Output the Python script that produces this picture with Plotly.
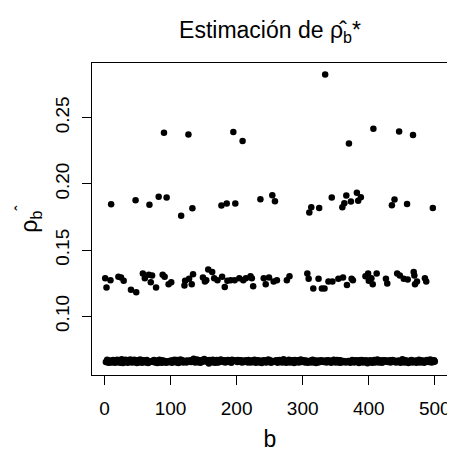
import plotly.graph_objects as go

# b index of the replicates that jumped above the base level, and their rho_b* value
b_out = [90, 127, 195, 209, 334, 370, 407, 446, 467,
         10, 47, 68, 82, 94, 116, 133, 177, 185, 198, 236, 254, 258, 310, 313, 325,
         344, 360, 363, 366, 373, 382, 384, 388, 435, 439, 458, 497,
         1, 3, 9, 21, 25, 29, 40, 48, 58, 61, 67, 72, 70, 78, 88, 91, 97, 101,
         122, 121, 128, 134, 132, 149, 152, 157, 163, 154, 166, 171, 178, 182,
         186, 191, 197, 204, 210, 214, 221, 225, 223, 241, 244, 249, 256, 261,
         276, 280, 307, 309, 316, 329, 324, 333, 339, 345, 354, 361, 367, 374,
         376, 395, 399, 400, 404, 412, 406, 426, 428, 443, 447, 453, 459, 468,
         469, 470, 473, 485, 487]
rho_out = [0.2387, 0.2374, 0.2393, 0.2324, 0.2826, 0.2306, 0.2416, 0.2395, 0.2370,
           0.1846, 0.1877, 0.1842, 0.1903, 0.1898, 0.1760, 0.1816, 0.1837, 0.1852,
           0.1852, 0.1885, 0.1915, 0.1869, 0.1785, 0.1823, 0.1818, 0.1898, 0.1823,
           0.1854, 0.1913, 0.1867, 0.1934, 0.1872, 0.1900, 0.1839, 0.1882, 0.1849,
           0.1818,
           0.1288, 0.1217, 0.1273, 0.1298, 0.1293, 0.1268, 0.1201, 0.1181, 0.1324,
           0.1288, 0.1314, 0.1308, 0.1257, 0.1217, 0.1314, 0.1298, 0.1242, 0.1257,
           0.1268, 0.1232, 0.1283, 0.1318, 0.1242, 0.1293, 0.1262, 0.1354, 0.1334,
           0.1273, 0.1288, 0.1273, 0.1298, 0.1222, 0.1268, 0.1273, 0.1273, 0.1288,
           0.1273, 0.1288, 0.1303, 0.1227, 0.1288, 0.1288, 0.1242, 0.1293, 0.1262,
           0.1273, 0.1273, 0.1303, 0.1324, 0.1283, 0.1211, 0.1211, 0.1283, 0.1211,
           0.1262, 0.1262, 0.1283, 0.1293, 0.1237, 0.1283, 0.1273, 0.1303, 0.1324,
           0.1268, 0.1288, 0.1324, 0.1242, 0.1283, 0.1247, 0.1324, 0.1308, 0.1283,
           0.1278, 0.1334, 0.1308, 0.1242, 0.1262, 0.1288, 0.1262]

# base level of rho_b* for b = 1..500 (used where b is not in b_out)
rho_base = [
    0.0664, 0.0654, 0.0668, 0.0672, 0.0652, 0.0661, 0.0649, 0.0666, 0.0674, 0.0658, 0.0651, 0.0665, 0.0670, 0.0655, 0.0662, 0.0650, 0.0667, 0.0659, 0.0671, 0.0653,
    0.0663, 0.0669, 0.0656, 0.0650, 0.0665, 0.0676, 0.0659, 0.0648, 0.0667, 0.0661, 0.0654, 0.0672, 0.0658, 0.0664, 0.0649, 0.0669, 0.0655, 0.0662, 0.0673, 0.0659,
    0.0651, 0.0667, 0.0660, 0.0653, 0.0671, 0.0662, 0.0655, 0.0665, 0.0648, 0.0669, 0.0659, 0.0652, 0.0663, 0.0674, 0.0656, 0.0666, 0.0650, 0.0660, 0.0668, 0.0662,
    0.0655, 0.0666, 0.0652, 0.0670, 0.0659, 0.0647, 0.0662, 0.0668, 0.0654, 0.0673, 0.0660, 0.0650, 0.0665, 0.0655, 0.0670, 0.0662, 0.0652, 0.0668, 0.0659, 0.0648,
    0.0666, 0.0658, 0.0672, 0.0652, 0.0662, 0.0669, 0.0650, 0.0660, 0.0666, 0.0655, 0.0675, 0.0661, 0.0649, 0.0668, 0.0658, 0.0653, 0.0671, 0.0662, 0.0655, 0.0665,
    0.0659, 0.0650, 0.0668, 0.0662, 0.0654, 0.0672, 0.0659, 0.0666, 0.0652, 0.0670, 0.0662, 0.0647, 0.0666, 0.0658, 0.0674, 0.0655, 0.0663, 0.0669, 0.0651, 0.0660,
    0.0668, 0.0655, 0.0662, 0.0652, 0.0666, 0.0659, 0.0672, 0.0650, 0.0662, 0.0668, 0.0654, 0.0666, 0.0658, 0.0648, 0.0679, 0.0662, 0.0652, 0.0666, 0.0659, 0.0673,
    0.0653, 0.0662, 0.0668, 0.0658, 0.0650, 0.0666, 0.0655, 0.0670, 0.0662, 0.0659, 0.0678, 0.0652, 0.0666, 0.0658, 0.0669, 0.0655, 0.0662, 0.0644, 0.0670, 0.0659,
    0.0662, 0.0655, 0.0666, 0.0672, 0.0652, 0.0659, 0.0669, 0.0650, 0.0662, 0.0670, 0.0658, 0.0652, 0.0666, 0.0655, 0.0662, 0.0673, 0.0650, 0.0659, 0.0668, 0.0655,
    0.0666, 0.0658, 0.0652, 0.0668, 0.0662, 0.0647, 0.0670, 0.0659, 0.0654, 0.0666, 0.0658, 0.0650, 0.0672, 0.0662, 0.0655, 0.0669, 0.0658, 0.0652, 0.0666, 0.0662,
    0.0655, 0.0670, 0.0662, 0.0650, 0.0666, 0.0659, 0.0669, 0.0652, 0.0662, 0.0675, 0.0655, 0.0666, 0.0658, 0.0648, 0.0669, 0.0662, 0.0652, 0.0670, 0.0659, 0.0655,
    0.0666, 0.0652, 0.0659, 0.0669, 0.0662, 0.0655, 0.0672, 0.0659, 0.0650, 0.0666, 0.0662, 0.0655, 0.0669, 0.0658, 0.0652, 0.0670, 0.0662, 0.0647, 0.0666, 0.0659,
    0.0659, 0.0669, 0.0655, 0.0662, 0.0652, 0.0666, 0.0659, 0.0674, 0.0655, 0.0662, 0.0669, 0.0650, 0.0659, 0.0666, 0.0655, 0.0670, 0.0662, 0.0652, 0.0659, 0.0668,
    0.0662, 0.0650, 0.0666, 0.0659, 0.0670, 0.0655, 0.0662, 0.0669, 0.0652, 0.0659, 0.0676, 0.0655, 0.0666, 0.0658, 0.0650, 0.0669, 0.0662, 0.0655, 0.0672, 0.0659,
    0.0652, 0.0666, 0.0659, 0.0669, 0.0655, 0.0662, 0.0647, 0.0670, 0.0659, 0.0666, 0.0655, 0.0662, 0.0669, 0.0652, 0.0659, 0.0666, 0.0674, 0.0655, 0.0662, 0.0659,
    0.0669, 0.0655, 0.0662, 0.0652, 0.0666, 0.0659, 0.0670, 0.0650, 0.0662, 0.0669, 0.0655, 0.0666, 0.0658, 0.0652, 0.0672, 0.0662, 0.0655, 0.0666, 0.0659, 0.0648,
    0.0659, 0.0666, 0.0652, 0.0670, 0.0662, 0.0655, 0.0669, 0.0659, 0.0650, 0.0666, 0.0662, 0.0655, 0.0670, 0.0658, 0.0666, 0.0652, 0.0662, 0.0669, 0.0655, 0.0659,
    0.0666, 0.0659, 0.0650, 0.0669, 0.0662, 0.0655, 0.0672, 0.0659, 0.0666, 0.0652, 0.0662, 0.0670, 0.0655, 0.0659, 0.0666, 0.0650, 0.0669, 0.0662, 0.0652, 0.0666,
    0.0655, 0.0662, 0.0669, 0.0659, 0.0652, 0.0666, 0.0677, 0.0655, 0.0662, 0.0669, 0.0659, 0.0650, 0.0666, 0.0658, 0.0670, 0.0655, 0.0662, 0.0652, 0.0659, 0.0669,
    0.0662, 0.0652, 0.0666, 0.0659, 0.0647, 0.0669, 0.0655, 0.0662, 0.0670, 0.0659, 0.0652, 0.0666, 0.0655, 0.0662, 0.0650, 0.0669, 0.0659, 0.0645, 0.0620, 0.0662,
    0.0659, 0.0669, 0.0655, 0.0662, 0.0650, 0.0666, 0.0659, 0.0670, 0.0652, 0.0662, 0.0655, 0.0666, 0.0673, 0.0659, 0.0652, 0.0669, 0.0662, 0.0655, 0.0666, 0.0650,
    0.0666, 0.0655, 0.0662, 0.0669, 0.0659, 0.0650, 0.0666, 0.0672, 0.0655, 0.0662, 0.0659, 0.0669, 0.0652, 0.0662, 0.0655, 0.0670, 0.0659, 0.0666, 0.0652, 0.0659,
    0.0652, 0.0662, 0.0669, 0.0655, 0.0666, 0.0659, 0.0670, 0.0650, 0.0662, 0.0655, 0.0675, 0.0659, 0.0666, 0.0652, 0.0662, 0.0669, 0.0655, 0.0659, 0.0666, 0.0648,
    0.0662, 0.0655, 0.0666, 0.0659, 0.0670, 0.0652, 0.0662, 0.0669, 0.0655, 0.0659, 0.0666, 0.0650, 0.0669, 0.0662, 0.0655, 0.0672, 0.0659, 0.0652, 0.0666, 0.0662,
    0.0655, 0.0666, 0.0659, 0.0650, 0.0669, 0.0662, 0.0652, 0.0670, 0.0659, 0.0666, 0.0655, 0.0662, 0.0673, 0.0659, 0.0652, 0.0666, 0.0662, 0.0655, 0.0669, 0.0659,
]

out = dict(zip(b_out, rho_out))
b = list(range(1, len(rho_base) + 1))
rho = [out.get(i, rho_base[i - 1]) for i in b]

# R style axis limits (4% padding)
xpad = 0.04 * (max(b) - min(b))
ypad = 0.04 * (max(rho) - min(rho))

font = "Liberation Sans, Arial, Helvetica, sans-serif"

fig = go.Figure()
fig.add_trace(go.Scatter(x=b, y=rho, mode="markers",
                         marker=dict(color="black", size=6.5, line=dict(width=0)),
                         showlegend=False))

# the page body has an 8px margin, so the figure is 8px smaller than the window
fig.update_layout(
    width=447, height=445,
    margin=dict(l=84, r=4, t=55, b=78),
    plot_bgcolor="white", paper_bgcolor="white",
    font=dict(family=font, size=19, color="black"),
    title=dict(text="Estimación de ρ̂<sub>b</sub>*", x=0.5, xref="paper",
               y=0.95, yanchor="middle", font=dict(size=23)),
)
fig.update_xaxes(range=[min(b) - xpad, max(b) + xpad], tickvals=[0, 100, 200, 300, 400, 500],
                 showgrid=False, zeroline=False, showline=True, mirror=True,
                 linecolor="black", linewidth=1.2, ticks="outside", ticklen=9,
                 tickcolor="black", tickwidth=1.2, ticklabelstandoff=7,
                 title=dict(text="b", standoff=12))
fig.update_yaxes(range=[min(rho) - ypad, max(rho) + ypad], tickvals=[0.10, 0.15, 0.20, 0.25],
                 ticktext=["0.10", "0.15", "0.20", "0.25"], tickangle=-90,
                 showgrid=False, zeroline=False, showline=True, mirror=True,
                 linecolor="black", linewidth=1.2, ticks="outside", ticklen=9,
                 tickcolor="black", tickwidth=1.2, ticklabelstandoff=5,
                 title=dict(text="ρ<sub>b</sub><sup>ˆ</sup>", standoff=8))

fig.write_html("out.html")
